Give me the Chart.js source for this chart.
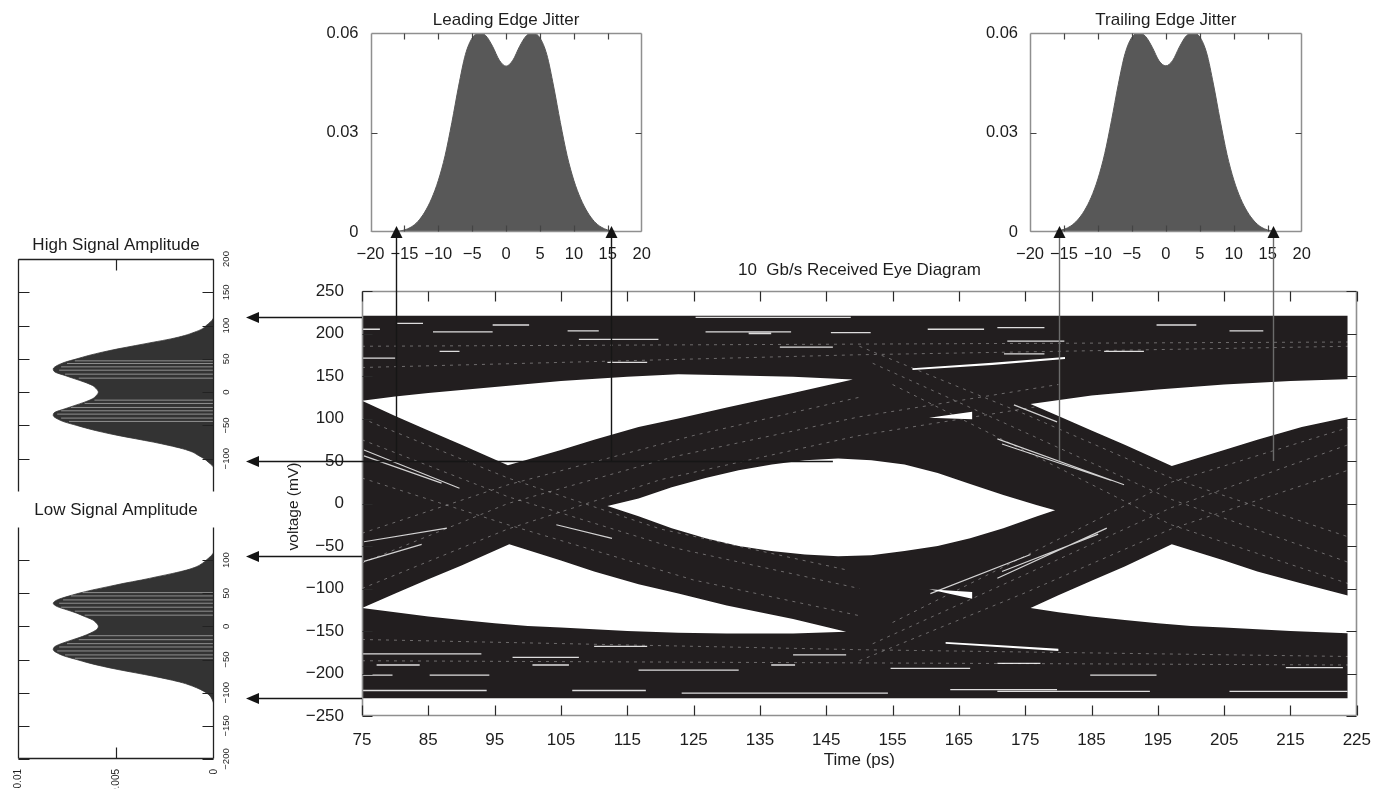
<!DOCTYPE html>
<html lang="en">
<head>
<meta charset="utf-8">
<title>10 Gb/s Received Eye Diagram</title>
<script src="https://cdn.jsdelivr.net/npm/chart.js@4.4.1/dist/chart.umd.min.js"></script>
<style>
  html, body { margin: 0; padding: 0; background: #ffffff; }
  #stage { position: relative; width: 1377px; height: 792px; overflow: hidden; }
  #stage canvas { position: absolute; left: 0; top: 0; }
</style>
</head>
<body>
<div id="stage">
  <canvas id="eye" width="1377" height="792"></canvas>
  <canvas id="jitterLead" width="1377" height="792"></canvas>
  <canvas id="jitterTrail" width="1377" height="792"></canvas>
  <canvas id="ampHigh" width="1377" height="792"></canvas>
  <canvas id="ampLow" width="1377" height="792"></canvas>
  <canvas id="markers" width="1377" height="792"></canvas>
</div>
<script>
const FONT = "'Liberation Sans', Arial, Helvetica, sans-serif";
const INK = '#1d1d1d';
const TRACE = '#221e1f';
const W = 1377, H = 792;

// ---------- Eye diagram axes ----------
const timeTicks = [75, 85, 95, 105, 115, 125, 135, 145, 155, 165, 175, 185, 195, 205, 215, 225];
const voltTicks = [-250, -200, -150, -100, -50, 0, 50, 100, 150, 200, 250];
const voltTickLabels = ['\u2212250', '\u2212200', '\u2212150', '\u2212100', '\u221250', '0', '50', '100', '150', '200', '250'];

// ---------- Eye diagram regions (time ps, voltage mV) ----------
// outer envelope covered by the overlaid traces
const traceEnvelope = [[75, 221], [223.6, 221], [223.6, -229], [75, -229]];
// open areas between trace bundles
const eyeCentre = [[112, -3], [116.7, 6], [121.7, 19], [126.8, 30], [131.8, 39], [136.8, 46], [141.8, 51], [146.8, 53],
  [151.8, 51], [156.8, 46], [161.8, 36], [166.7, 23], [171.7, 10], [176.8, -2], [179.5, -8],
  [176.8, -15], [171.7, -29], [166.7, -41], [161.8, -50], [156.8, -56], [151.8, -61], [146.8, -62],
  [141.8, -60], [136.7, -56], [131.8, -50], [126.8, -41], [121.7, -29], [116.7, -15]];
const eyeUpperLeft = [[75, 121], [80, 126], [85, 130], [95, 137], [105, 144], [115, 149], [122.7, 152], [130, 151],
  [140, 149], [149, 146], [140, 130], [130, 113], [122.7, 100], [116.7, 90], [110, 75], [105, 63], [97, 45],
  [90, 69], [85, 86], [80, 103]];
const eyeUpperRight = [[175.8, 117], [185, 127], [195, 134], [205, 140], [215, 144], [224.5, 146.5], [224.5, 103],
  [216.7, 90], [210, 75], [205, 63], [197.1, 44], [190, 69], [185, 86], [180, 103]];
const eyeLowerLeft = [[75, -123], [80, -128], [85, -133], [90, -137], [95, -141], [100, -144], [105, -146], [110, -148],
  [115, -150], [122.7, -152], [130, -153], [140, -153], [148, -151], [140, -136], [130, -120], [122.7, -106],
  [116.7, -95], [110, -80], [105, -67], [97.2, -48], [90, -73], [85, -89], [80, -106]];
const eyeLowerRight = [[175.8, -123], [180, -128], [185, -133], [190, -137], [195, -141], [200, -144], [205, -146],
  [210, -148], [215, -150], [224.5, -153], [224.5, -110], [216.7, -94], [210, -80], [205, -67], [197.1, -48],
  [190, -74], [185, -91], [180, -108]];
const upperSliver = [[158, 157], [170, 163], [181, 170], [181, 172.5], [170, 165.5], [158, 159]];
const upperWedge = [[160.5, 101], [167, 108], [167, 99]];
const lowerWedge = [[160.5, -101], [167, -104], [167, -112]];
const lowerSliver = [[163, -163], [172, -167], [180, -171], [180, -173.5], [172, -169.5], [163, -165]];

// thin gaps between individual traces in the rails: [from ps, to ps, mV]
const railGaps = [
  [75, 77.7, 205], [80.3, 84.2, 212], [94.7, 100.2, 210], [85.7, 94.7, 202], [106, 110.7, 203], [75, 80, 171],
  [86.7, 89.7, 179], [107.7, 119.7, 193], [125.3, 148.7, 219], [133.3, 136.7, 200], [145.7, 151.7, 201],
  [160.3, 168.8, 205], [171.8, 177.9, 176], [126.8, 139.7, 202], [170.8, 177.9, 207], [194.8, 200.8, 210],
  [205.8, 210.9, 203], [186.9, 192.9, 179], [172.3, 180.9, 191], [112, 118, 166], [138, 146, 184],
  [75, 93, -177], [77.2, 83.7, -190], [75, 79.6, -202], [75, 93.8, -220], [85.2, 94.2, -202], [100.7, 106.2, -190],
  [106.7, 117.8, -220], [97.7, 107.7, -181], [123.2, 154.3, -223], [136.7, 140.3, -190], [154.7, 166.7, -194],
  [163.7, 179.8, -219], [116.7, 131.8, -196], [170.8, 193.8, -221], [205.8, 223.6, -221], [184.8, 194.8, -202],
  [170.8, 177.3, -188], [214.3, 222.9, -193], [110, 118, -168], [140, 148, -178]
];
// gaps inside the transition bundles: [ps, mV, ps, mV]
const bandGaps = [
  [75.3, 63, 89.7, 18], [75.3, 56, 87, 24], [75.3, -68, 84, -48], [75.3, -45, 87.8, -29], [104.3, -25, 112.7, -41],
  [170.8, -88, 187.3, -29], [171.5, -80, 186, -36], [170.8, 76, 189.9, 22], [171.5, 70, 188, 27],
  [160.7, -106, 175.8, -60], [173.3, 116, 179.8, 96]
];
// faint individual trace paths running along the bundles: lists of [ps, mV]
const bundleTraces = [
  [[75, 100], [97, 30], [120, -30], [148, -78]], [[75, 75], [97, 8], [122, -52], [150, -100]],
  [[75, 30], [97, -25], [125, -90], [150, -132]],
  [[75, -100], [97, -30], [120, 28], [150, 80], [180, 118]], [[75, -70], [97, 0], [122, 55], [150, 102], [180, 140]],
  [[75, -35], [97, 22], [125, 80], [150, 125]],
  [[150, 185], [175, 105], [197, 30], [224, -40]], [[152, 165], [176, 80], [197, 5], [224, -70]],
  [[155, 140], [178, 50], [197, -25], [224, -95]],
  [[150, -185], [175, -105], [197, -30], [224, 40]], [[152, -165], [176, -80], [197, -5], [224, 70]],
  [[155, -140], [178, -50], [197, 25], [224, 90]],
  [[75, 185], [224, 190]], [[75, 160], [150, 175], [224, 185]],
  [[75, -185], [224, -190]], [[75, -160], [150, -172], [224, -180]]
];

// ---------- Jitter histograms ----------
const jitterTime = [-20, -19, -18, -17, -16, -15, -14, -13, -12, -11, -10, -9, -8, -7, -6, -5, -4, -3, -2, -1, 0,
  1, 2, 3, 4, 5, 6, 7, 8, 9, 10, 11, 12, 13, 14, 15, 16, 17, 18, 19, 20];
const leadingJitter = [0, 0, 0, 0, 0.0002, 0.0006, 0.0015, 0.0032, 0.0060, 0.0100, 0.0155, 0.0230, 0.0330, 0.0440,
  0.0535, 0.0585, 0.0600, 0.0592, 0.0560, 0.0518, 0.0500, 0.0518, 0.0560, 0.0592, 0.0600, 0.0585, 0.0535, 0.0440,
  0.0330, 0.0230, 0.0155, 0.0100, 0.0060, 0.0032, 0.0015, 0.0006, 0.0002, 0, 0, 0, 0];
const trailingJitter = [0, 0, 0, 0, 0.0003, 0.0008, 0.0018, 0.0036, 0.0064, 0.0104, 0.0160, 0.0236, 0.0336, 0.0445,
  0.0538, 0.0587, 0.0600, 0.0590, 0.0557, 0.0516, 0.0501, 0.0517, 0.0558, 0.0591, 0.0600, 0.0588, 0.0540, 0.0446,
  0.0336, 0.0234, 0.0157, 0.0101, 0.0061, 0.0033, 0.0015, 0.0006, 0.0002, 0, 0, 0, 0];
const jitterTicks = [-20, -15, -10, -5, 0, 5, 10, 15, 20];
const jitterTickLabels = ['\u221220', '\u221215', '\u221210', '\u22125', '0', '5', '10', '15', '20'];
const jitterDensityTicks = [0, 0.03, 0.06];
const jitterDensityLabels = ['0', '0.03', '0.06'];

// ---------- Amplitude histograms ----------
const ampLevels = [-120, -115, -110, -105, -100, -95, -90, -85, -80, -75, -70, -65, -60, -55, -50, -45, -40, -35, -30,
  -25, -20, -15, -10, -5, 0, 5, 10, 15, 20, 25, 30, 35, 40, 45, 50, 55, 60, 65, 70, 75, 80, 85, 90, 95, 100, 105,
  110, 115, 120];
const highAmplitude = [0, 0, 0.0001, 0.0003, 0.0005, 0.0008, 0.0011, 0.0016, 0.0023, 0.0031, 0.0040, 0.0049, 0.0057,
  0.0064, 0.0070, 0.0076, 0.0080, 0.0082, 0.0081, 0.0076, 0.0071, 0.0066, 0.0062, 0.0060, 0.0059, 0.0060, 0.0062,
  0.0066, 0.0071, 0.0076, 0.0081, 0.0082, 0.0080, 0.0076, 0.0070, 0.0064, 0.0057, 0.0049, 0.0040, 0.0031, 0.0022,
  0.0015, 0.0010, 0.0006, 0.0004, 0.0002, 0.00005, 0, 0];
const lowAmplitude = [0, 0.00003, 0.0001, 0.0002, 0.0004, 0.0007, 0.0011, 0.0016, 0.0023, 0.0031, 0.0040, 0.0049,
  0.0057, 0.0064, 0.0070, 0.0076, 0.0080, 0.0082, 0.0081, 0.0077, 0.0072, 0.0067, 0.0063, 0.0060, 0.0059, 0.0060,
  0.0062, 0.0066, 0.0070, 0.0075, 0.0080, 0.0082, 0.0080, 0.0075, 0.0069, 0.0062, 0.0054, 0.0046, 0.0037, 0.0029,
  0.0021, 0.0014, 0.0009, 0.0006, 0.0004, 0.0002, 0.00005, 0, 0];
// lighter bins inside the histograms: [mV, extent]
const highStripes = [[47, 0.0071], [43, 0.0075], [38, 0.0078], [33, 0.0079], [27, 0.0076], [21, 0.0069], [-12, 0.0061],
  [-17, 0.0066], [-23, 0.0073], [-28, 0.0078], [-33, 0.0080], [-39, 0.0078], [-44, 0.0074]];
const lowStripes = [[51, 0.0067], [46, 0.0073], [40, 0.0077], [35, 0.0079], [29, 0.0078], [23, 0.0071], [17, 0.0066],
  [-14, 0.0064], [-20, 0.0069], [-26, 0.0075], [-31, 0.0079], [-37, 0.0080], [-43, 0.0076], [-48, 0.0071]];
const ampDensityTicks = [0, 0.005, 0.01];
const ampDensityLabels = ['0', '0.005', '0.01'];
const highLevelTicks = [200, 150, 100, 50, 0, -50, -100];
const highLevelLabels = ['200', '150', '100', '50', '0', '\u221250', '\u2212100'];
const lowLevelTicks = [100, 50, 0, -50, -100, -150, -200];
const lowLevelLabels = ['100', '50', '0', '\u221250', '\u2212100', '\u2212150', '\u2212200'];

// ---------- Cross-reference markers ----------
const edgeMarkers = [80.1, 112.5, 180.1, 212.4];    // ps, jitter extremes on the eye
const edgeMarkerBase = 50;                           // mV, lower end of the edge markers
const levelMarkers = [219, 50, -62, -229];           // mV, amplitude extremes
const levelMarkerStarts = [75, 146, 75, 75];         // ps, where each level marker begins

Chart.defaults.font.family = FONT;
Chart.defaults.color = INK;

const pts = arr => arr.map(([x, y]) => ({ x, y }));

// frame, inward ticks and free text for one panel
function panelDecor(cfg) {
  return {
    id: 'panelDecor',
    afterDatasetsDraw(chart) {
      const { ctx, chartArea: a, scales } = chart;
      const L = Math.round(a.left) + 0.5, R = Math.round(a.right) - 0.5;
      const T = Math.round(a.top) + 0.5, B = Math.round(a.bottom) - 0.5;
      ctx.save();
      ctx.strokeStyle = cfg.frameColor;
      ctx.lineWidth = cfg.frameWidth;
      ctx.beginPath();
      if (cfg.sides.includes('top')) { ctx.moveTo(L, T); ctx.lineTo(R, T); }
      if (cfg.sides.includes('bottom')) { ctx.moveTo(L, B); ctx.lineTo(R, B); }
      if (cfg.sides.includes('left')) { ctx.moveTo(L, T); ctx.lineTo(L, B); }
      if (cfg.sides.includes('right')) { ctx.moveTo(R, T); ctx.lineTo(R, B); }
      ctx.stroke();
      ctx.strokeStyle = cfg.tickColor;
      ctx.lineWidth = 1.2;
      ctx.beginPath();
      const len = cfg.tickLength;
      for (const t of cfg.ticks) {
        const sc = scales[t.axis];
        for (const v of t.values) {
          const p = Math.round(sc.getPixelForValue(v)) + 0.5;
          if (t.side === 'bottom') { ctx.moveTo(p, B); ctx.lineTo(p, B - len); }
          if (t.side === 'top') { ctx.moveTo(p, T); ctx.lineTo(p, T + len); }
          if (t.side === 'left') { ctx.moveTo(L, p); ctx.lineTo(L + len, p); }
          if (t.side === 'right') { ctx.moveTo(R, p); ctx.lineTo(R - len, p); }
        }
      }
      ctx.stroke();
      ctx.fillStyle = INK;
      ctx.textAlign = 'center';
      ctx.textBaseline = 'middle';
      for (const t of cfg.texts || []) {
        const [x, y] = t.pos(a);
        ctx.save();
        ctx.translate(x, y);
        if (t.rotate) ctx.rotate(t.rotate);
        ctx.font = t.font;
        ctx.fillText(t.text, 0, 0);
        ctx.restore();
      }
      if (cfg.sideLabels) {
        const s = cfg.sideLabels;
        const sc = scales.y;
        ctx.font = s.font;
        s.values.forEach((v, i) => {
          const py = sc.getPixelForValue(v);
          ctx.save();
          ctx.translate(a.right + s.offset, py);
          ctx.rotate(-Math.PI / 2);
          ctx.fillText(s.labels[i], 0, 0);
          ctx.restore();
        });
      }
      ctx.restore();
    }
  };
}

const baseOptions = () => ({
  responsive: false,
  animation: false,
  events: [],
  plugins: { legend: { display: false }, tooltip: { enabled: false }, title: { display: false } }
});

// ---------- Eye diagram ----------
const gapPoints = [];
railGaps.forEach(([x1, x2, v]) => gapPoints.push({ x: x1, y: v }, { x: x2, y: v }, { x: x2, y: null }));
const bandGapPoints = [];
bandGaps.forEach(([x1, y1, x2, y2]) => bandGapPoints.push({ x: x1, y: y1 }, { x: x2, y: y2 }, { x: x2, y: null }));
const tracePoints = [];
bundleTraces.forEach(path => {
  path.forEach(([x, y]) => tracePoints.push({ x, y }));
  tracePoints.push({ x: path[path.length - 1][0], y: null });
});

const hole = (data) => ({ data: pts(data), fill: 'shape', backgroundColor: '#ffffff', borderWidth: 0, pointRadius: 0, tension: 0, order: 2 });

const eyeArea = { l: 362, r: 1361, t: 291, b: 716 };
const eye = new Chart(document.getElementById('eye'), {
  type: 'line',
  data: {
    datasets: [
      { data: gapPoints, borderColor: 'rgba(255,255,255,0.85)', borderWidth: 1.3, pointRadius: 0, fill: false, tension: 0, spanGaps: false, order: 1 },
      { data: bandGapPoints, borderColor: 'rgba(255,255,255,0.8)', borderWidth: 1.2, pointRadius: 0, fill: false, tension: 0, spanGaps: false, order: 1 },
      { data: tracePoints, borderColor: 'rgba(255,255,255,0.35)', borderWidth: 1, borderDash: [3, 5], pointRadius: 0, fill: false, tension: 0, spanGaps: false, order: 1 },
      hole(eyeCentre), hole(eyeUpperLeft), hole(eyeUpperRight), hole(eyeLowerLeft), hole(eyeLowerRight),
      hole(upperSliver), hole(upperWedge), hole(lowerWedge), hole(lowerSliver),
      { data: pts(traceEnvelope), fill: 'shape', backgroundColor: TRACE, borderWidth: 0, pointRadius: 0, tension: 0, order: 3 }
    ]
  },
  options: Object.assign(baseOptions(), {
    layout: { padding: { left: eyeArea.l - 80, right: W - eyeArea.r, top: eyeArea.t, bottom: H - eyeArea.b - 60 } },
    scales: {
      x: {
        type: 'linear', min: 75, max: 225,
        afterFit: s => { s.height = 60; },
        afterBuildTicks: s => { s.ticks = timeTicks.map(v => ({ value: v })); },
        grid: { display: false }, border: { display: false },
        ticks: { autoSkip: false, maxRotation: 0, padding: 6, color: INK, font: { size: 17 }, callback: v => String(v) }
      },
      y: {
        type: 'linear', min: -250, max: 250,
        afterFit: s => { s.width = 80; },
        afterBuildTicks: s => { s.ticks = voltTicks.map(v => ({ value: v })); },
        grid: { display: false }, border: { display: false },
        ticks: { padding: 10, color: INK, font: { size: 17 }, callback: v => voltTickLabels[voltTicks.indexOf(v)] }
      }
    }
  }),
  plugins: [panelDecor({
    frameColor: '#8f8f8f', frameWidth: 1.6, tickColor: '#2a2a2a', tickLength: 10,
    sides: ['top', 'bottom', 'left', 'right'],
    ticks: [
      { axis: 'x', side: 'bottom', values: timeTicks }, { axis: 'x', side: 'top', values: timeTicks },
      { axis: 'y', side: 'left', values: voltTicks }, { axis: 'y', side: 'right', values: voltTicks }
    ],
    texts: [
      { text: '10  Gb/s Received Eye Diagram', font: `17px ${FONT}`, pos: a => [(a.left + a.right) / 2, a.top - 21] },
      { text: 'Time (ps)', font: `17px ${FONT}`, pos: a => [(a.left + a.right) / 2, a.bottom + 44] },
      { text: 'voltage (mV)', font: `15.5px ${FONT}`, rotate: -Math.PI / 2, pos: a => [a.left - 68, (a.top + a.bottom) / 2 + 3] }
    ]
  })]
});

// ---------- Jitter histograms ----------
function jitterChart(id, values, area, title) {
  return new Chart(document.getElementById(id), {
    type: 'line',
    data: {
      datasets: [{
        data: jitterTime.map((t, i) => ({ x: t, y: values[i] })),
        fill: 'origin', backgroundColor: '#585858', borderColor: '#585858', borderWidth: 1,
        pointRadius: 0, cubicInterpolationMode: 'monotone'
      }]
    },
    options: Object.assign(baseOptions(), {
      layout: { padding: { left: area.l - 60, right: W - area.r, top: area.t, bottom: H - area.b - 30 } },
      scales: {
        x: {
          type: 'linear', min: -20, max: 20,
          afterFit: s => { s.height = 30; },
          afterBuildTicks: s => { s.ticks = jitterTicks.map(v => ({ value: v })); },
          grid: { display: false }, border: { display: false },
          ticks: { autoSkip: false, maxRotation: 0, padding: 5, color: INK, font: { size: 16.5 }, callback: v => jitterTickLabels[jitterTicks.indexOf(v)] }
        },
        y: {
          type: 'linear', min: 0, max: 0.06,
          afterFit: s => { s.width = 60; },
          afterBuildTicks: s => { s.ticks = jitterDensityTicks.map(v => ({ value: v })); },
          grid: { display: false }, border: { display: false },
          ticks: { padding: 4, color: INK, font: { size: 16.5 }, callback: v => jitterDensityLabels[jitterDensityTicks.indexOf(v)] }
        }
      }
    }),
    plugins: [panelDecor({
      frameColor: '#8f8f8f', frameWidth: 1.5, tickColor: '#444', tickLength: 6,
      sides: ['top', 'bottom', 'left', 'right'],
      ticks: [
        { axis: 'x', side: 'bottom', values: jitterTicks.slice(1, -1) }, { axis: 'x', side: 'top', values: jitterTicks.slice(1, -1) },
        { axis: 'y', side: 'left', values: [0.03] }, { axis: 'y', side: 'right', values: [0.03] }
      ],
      texts: [{ text: title, font: `17px ${FONT}`, pos: a => [(a.left + a.right) / 2, a.top - 13] }]
    })]
  });
}
const jitterLead = jitterChart('jitterLead', leadingJitter, { l: 370.5, r: 641.7, t: 33, b: 232 }, 'Leading Edge Jitter');
const jitterTrail = jitterChart('jitterTrail', trailingJitter, { l: 1030, r: 1301.7, t: 33, b: 232 }, 'Trailing Edge Jitter');

// ---------- Amplitude histograms (density to the left, voltage upward) ----------
function ampChart(id, values, stripes, area, range, levelTicks, levelLabels, title, titleGap, showDensity, sides, densitySide) {
  const stripePts = [];
  stripes.forEach(([lv, d]) => stripePts.push({ x: 0, y: lv }, { x: d, y: lv }, { x: null, y: lv }));
  const xAxisH = showDensity ? 30 : 0;
  return new Chart(document.getElementById(id), {
    type: 'line',
    data: {
      datasets: [
        { data: stripePts, borderColor: 'rgba(175,175,175,0.75)', borderWidth: 1, pointRadius: 0, fill: false, tension: 0, spanGaps: false, order: 1 },
        {
          data: ampLevels.map((lv, i) => ({ x: values[i], y: lv })),
          fill: 'shape', backgroundColor: '#333333', borderColor: '#333333', borderWidth: 0.8,
          pointRadius: 0, cubicInterpolationMode: 'monotone', order: 2
        }
      ]
    },
    options: Object.assign(baseOptions(), {
      indexAxis: 'y',
      layout: { padding: { left: area.l, right: W - area.r, top: area.t, bottom: H - area.b - xAxisH } },
      scales: {
        x: {
          type: 'linear', min: 0, max: 0.01, reverse: true, display: showDensity,
          afterFit: s => { s.height = xAxisH; },
          afterBuildTicks: s => { s.ticks = ampDensityTicks.map(v => ({ value: v })); },
          grid: { display: false }, border: { display: false },
          ticks: { autoSkip: false, minRotation: 90, maxRotation: 90, padding: 2, color: INK, font: { size: 10 }, callback: v => ampDensityLabels[ampDensityTicks.indexOf(v)] }
        },
        y: { type: 'linear', min: range[0], max: range[1], display: false }
      }
    }),
    plugins: [panelDecor({
      frameColor: '#222', frameWidth: 1.3, tickColor: '#222', tickLength: 11,
      sides,
      ticks: [
        { axis: 'y', side: 'left', values: levelTicks }, { axis: 'y', side: 'right', values: levelTicks },
        { axis: 'x', side: densitySide, values: [0.005] }
      ],
      texts: [{ text: title, font: `17px ${FONT}`, pos: a => [(a.left + a.right) / 2, a.top - titleGap] }],
      sideLabels: { values: levelTicks, labels: levelLabels, offset: 12, font: `9.5px ${FONT}` }
    })]
  });
}
const ampHigh = ampChart('ampHigh', highAmplitude, highStripes, { l: 18, r: 214, t: 259, b: 492 }, [-150, 200],
  highLevelTicks, highLevelLabels, 'High Signal Amplitude', 14, false, ['top', 'left', 'right'], 'top');
const ampLow = ampChart('ampLow', lowAmplitude, lowStripes, { l: 18, r: 214, t: 527, b: 759 }, [-200, 150],
  lowLevelTicks, lowLevelLabels, 'Low Signal Amplitude', 17, true, ['bottom', 'left', 'right'], 'bottom');

// ---------- Markers linking the eye to the histograms ----------
(function drawMarkers() {
  const ctx = document.getElementById('markers').getContext('2d');
  const ex = eye.scales.x, ey = eye.scales.y;
  const seg = (x1, y1, x2, y2) => { ctx.beginPath(); ctx.moveTo(x1, y1); ctx.lineTo(x2, y2); ctx.stroke(); };
  const head = (p) => { ctx.beginPath(); ctx.moveTo(...p[0]); ctx.lineTo(...p[1]); ctx.lineTo(...p[2]); ctx.closePath(); ctx.fill(); };
  ctx.lineWidth = 1.4;
  ctx.fillStyle = '#141414';
  edgeMarkers.forEach((t, i) => {
    const target = i < 2 ? jitterLead : jitterTrail;
    const x = Math.round(ex.getPixelForValue(t)) + 0.5;
    const tipY = target.scales.y.getPixelForValue(0) - 6;
    const y0 = ey.getPixelForValue(edgeMarkerBase);
    ctx.strokeStyle = i < 2 ? '#161616' : '#6b6b6b';
    seg(x, y0, x, tipY + 10);
    head([[x, tipY], [x - 6, tipY + 12], [x + 6, tipY + 12]]);
  });
  ctx.strokeStyle = '#161616';
  levelMarkers.forEach((v, i) => {
    const y = Math.round(ey.getPixelForValue(v)) + 0.5;
    const x0 = ex.getPixelForValue(levelMarkerStarts[i]);
    const tipX = ampHigh.chartArea.right + 32;
    seg(x0, y, tipX + 10, y);
    head([[tipX, y], [tipX + 13, y - 5.5], [tipX + 13, y + 5.5]]);
  });
})();
</script>
</body>
</html>
